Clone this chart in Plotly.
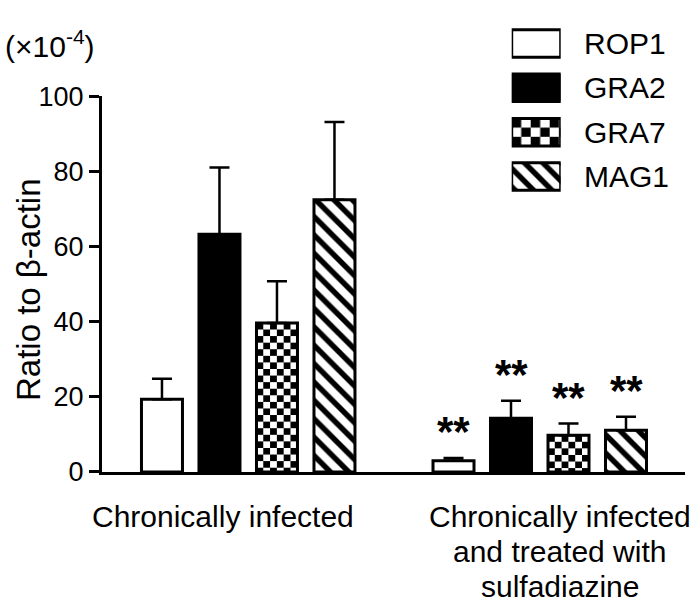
import base64
import plotly.graph_objects as go

# ---------------- data ----------------
groups = ["Chronically infected", "Chronically infected<br>and treated with<br>sulfadiazine"]
series = ["ROP1", "GRA2", "GRA7", "MAG1"]
# mean values (x10^-4) per series, [chronic, chronic+sulfadiazine]
rop1 = [19.4, 3.0]
gra2 = [63.3, 14.3]
gra7 = [39.7, 9.8]
mag1 = [72.5, 11.1]
# upper error (SD)
rop1_err = [5.4, 0.7]
gra2_err = [17.8, 4.7]
gra7_err = [11.1, 3.1]
mag1_err = [20.7, 3.6]
signif = ["", "**"]  # significance marks per group
y_ticks = [0, 20, 40, 60, 80, 100]
y_unit = "(×10<sup>-4</sup>)"
y_title = "Ratio to β-actin"

means = [rop1, gra2, gra7, mag1]
errs = [rop1_err, gra2_err, gra7_err, mag1_err]

# ---------------- layout constants ----------------
W, H = 700, 603
ML, MR, MT, MB = 102, 15, 6, 131
PW, PH = W - ML - MR, H - MT - MB
YDOM_TOP = (472 - 84) / PH
GROUP_GAP = 5.07
BAR_W = 0.713
XR = [-1.043, 9.096]
YR = [0, 100]
FONT = "Liberation Sans, Arial, Helvetica, sans-serif"
PX_X = PW / (XR[1] - XR[0])
PX_Y = PH * YDOM_TOP / (YR[1] - YR[0])


def checker_uri(cell, w, h):
    w = max(w, 1.0)
    h = max(h, 1.0)
    svg = (
        f"<svg xmlns='http://www.w3.org/2000/svg' width='{w:.2f}' height='{h:.2f}' "
        f"viewBox='0 0 {w:.2f} {h:.2f}' preserveAspectRatio='none'>"
        f"<defs><pattern id='c' x='0' y='0' width='{2*cell}' height='{2*cell}' patternUnits='userSpaceOnUse'>"
        f"<rect width='{2*cell}' height='{2*cell}' fill='white'/>"
        f"<rect width='{cell}' height='{cell}' fill='black'/>"
        f"<rect x='{cell}' y='{cell}' width='{cell}' height='{cell}' fill='black'/>"
        f"</pattern></defs><rect width='{w:.2f}' height='{h:.2f}' fill='url(#c)'/></svg>"
    )
    return "data:image/svg+xml;base64," + base64.b64encode(svg.encode()).decode()


styles = {
    "ROP1": dict(color="white"),
    "GRA2": dict(color="black"),
    "GRA7": dict(color="rgba(0,0,0,0)"),
    "MAG1": dict(color="white", pattern=dict(shape="\\", fgcolor="black", bgcolor="white",
                                             size=13, solidity=0.42, fillmode="replace")),
}

fig = go.Figure()
images = []
annotations = []

for i, name in enumerate(series):
    xs = [g * GROUP_GAP + i for g in range(len(groups))]
    mk = dict(styles[name])
    mk["line"] = dict(color="black", width=3)
    fig.add_trace(go.Bar(
        x=xs, y=means[i], width=BAR_W, marker=mk, name=name,
        error_y=dict(type="data", array=errs[i], arrayminus=[0] * len(xs), symmetric=False,
                     color="black", thickness=2.5, width=10),
        showlegend=False, hoverinfo="skip",
    ))
    if name == "GRA7":
        for x, v in zip(xs, means[i]):
            images.append(dict(source=checker_uri(6.8, BAR_W * PX_X, v * PX_Y), xref="x", yref="y",
                               x=x, y=0, sizex=BAR_W, sizey=v, xanchor="center",
                               yanchor="bottom", sizing="stretch", layer="below"))
    for g, x in enumerate(xs):
        if signif[g]:
            annotations.append(dict(x=x, y=means[i][g] + errs[i][g], xref="x", yref="y",
                                    text="<b>" + signif[g] + "</b>", showarrow=False,
                                    yanchor="bottom", yshift=1,
                                    font=dict(size=42, color="black", family=FONT)))

# ---------------- legend drawn in a small auxiliary axis ----------------
LEG_X0, LEG_X1, LEG_Y0, LEG_Y1 = 511.7, 560.7, 6.3, 189.6
LEG_BAR = 0.62
row_px = (LEG_Y1 - LEG_Y0) / len(series)
for i, name in enumerate(series):
    mk = dict(styles[name])
    mk["line"] = dict(color="black", width=3)
    fig.add_trace(go.Bar(
        x=[1], y=[i], base=0, orientation="h", width=LEG_BAR, marker=mk,
        xaxis="x2", yaxis="y2", showlegend=False, hoverinfo="skip",
    ))
    if name == "GRA7":
        images.append(dict(source=checker_uri(9.5, LEG_X1 - LEG_X0, LEG_BAR * row_px),
                           xref="x2", yref="y2", x=0.5, y=i, sizex=1, sizey=LEG_BAR,
                           xanchor="center", yanchor="middle", sizing="stretch", layer="below"))
    annotations.append(dict(x=(581.7 - ML) / PW, y=i, xref="paper", yref="y2", text=name,
                            showarrow=False, xanchor="left", yanchor="middle",
                            font=dict(size=30, color="black", family=FONT)))

# group labels (one annotation per line for tight line spacing)
shifts = [-25.5, 20]
for g, lab in enumerate(groups):
    for k, line in enumerate(lab.split("<br>")):
        annotations.append(dict(x=g * GROUP_GAP + 1.5, y=0, xref="x", yref="paper", text=line,
                                showarrow=False, xanchor="center", yanchor="middle",
                                xshift=shifts[g], yshift=-44 - 35 * k,
                                font=dict(size=30, color="black", family=FONT)))

# y title and unit
annotations.append(dict(x=(28 - ML) / PW, y=(472 - 284) / PH, xref="paper", yref="paper",
                        text=y_title, textangle=-90, showarrow=False, xanchor="center",
                        yanchor="middle", font=dict(size=33, color="black", family=FONT)))
annotations.append(dict(x=(3 - ML) / PW, y=(472 - 30) / PH, xref="paper", yref="paper",
                        text=y_unit, showarrow=False, xanchor="left", yanchor="middle",
                        font=dict(size=30, color="black", family=FONT)))

fig.update_layout(
    width=W, height=H,
    margin=dict(l=ML, r=MR, t=MT, b=MB),
    paper_bgcolor="white", plot_bgcolor="white",
    barmode="overlay",
    font=dict(family=FONT, color="black"),
    xaxis=dict(range=XR, showline=True, linewidth=3, linecolor="black", showgrid=False,
               zeroline=False, showticklabels=False, ticks="", fixedrange=True),
    yaxis=dict(range=YR, domain=[0, YDOM_TOP], tickvals=y_ticks, ticks="outside",
               ticklen=10, tickwidth=3, tickcolor="black", showline=True, linewidth=3,
               linecolor="black", showgrid=False, zeroline=False,
               tickfont=dict(size=27, color="black", family=FONT)),
    xaxis2=dict(domain=[(LEG_X0 - ML) / PW, (LEG_X1 - ML) / PW], range=[0, 1], anchor="y2",
                visible=False, fixedrange=True),
    yaxis2=dict(domain=[(472 - LEG_Y1) / PH, (472 - LEG_Y0) / PH], range=[3.5, -0.5],
                anchor="x2", visible=False, fixedrange=True),
    images=images,
    annotations=annotations,
)

fig.write_html("out.html", config={"displayModeBar": False},
               post_script="document.body.style.margin='0px';document.body.style.overflow='hidden';")
